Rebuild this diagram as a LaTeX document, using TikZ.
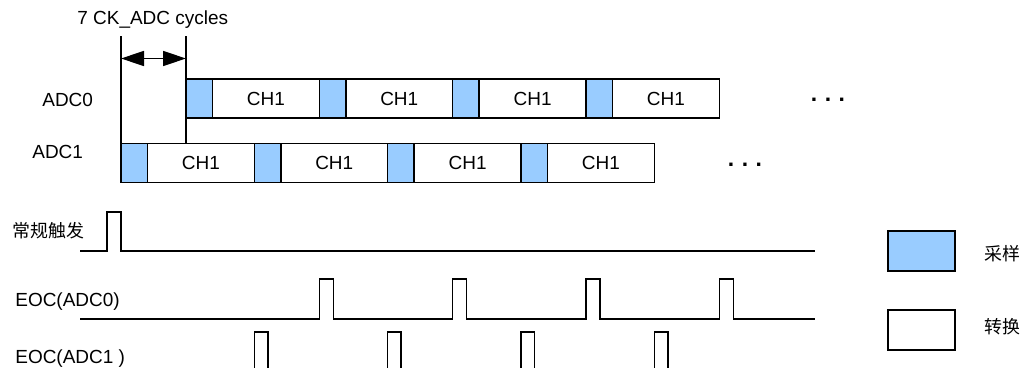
\documentclass[tikz,border=0pt]{standalone}
\usepackage{fontspec}
\setmainfont{Liberation Sans}
\newfontfamily\cjk{Noto Sans CJK SC}
\usetikzlibrary{calc,positioning,arrows.meta}
\definecolor{sampblue}{HTML}{99CCFF}

\begin{document}
\begin{tikzpicture}[font=\fontsize{10.8}{12}\selectfont,
		box/.style={draw, line width=0.9pt, minimum height=0.78cm, inner sep=0pt, outer sep=0pt},
		samp/.style={box, fill=sampblue, minimum width=0.53cm},
		conv/.style={box, fill=white, minimum width=2.137cm},
		sig/.style={line width=0.9pt},
		lbl/.style={inner sep=0pt, anchor=west},
		cjklbl/.style={lbl, font=\fontsize{10.2}{12}\selectfont\cjk},
		more/.style={inner sep=0pt, font=\fontsize{13}{13}\selectfont\bfseries},
		>={Triangle[length=0.46cm, width=0.3cm]}]
	\useasboundingbox (0,0) rectangle (20.48,-7.36);

	% ADC0
	\node[samp, anchor=west] at (3.72,-1.97) (a0s1) {};
	\node[conv, right=0pt of a0s1] (a0c1) {CH1};
	\node[samp, right=0pt of a0c1] (a0s2) {};
	\node[conv, right=0pt of a0s2] (a0c2) {CH1};
	\node[samp, right=0pt of a0c2] (a0s3) {};
	\node[conv, right=0pt of a0s3] (a0c3) {CH1};
	\node[samp, right=0pt of a0c3] (a0s4) {};
	\node[conv, right=0pt of a0s4] (a0c4) {CH1};

	% ADC1
	\node[samp, anchor=west] at (2.42,-3.26) (a1s1) {};
	\node[conv, right=0pt of a1s1] (a1c1) {CH1};
	\node[samp, right=0pt of a1c1] (a1s2) {};
	\node[conv, right=0pt of a1s2] (a1c2) {CH1};
	\node[samp, right=0pt of a1c2] (a1s3) {};
	\node[conv, right=0pt of a1s3] (a1c3) {CH1};
	\node[samp, right=0pt of a1c3] (a1s4) {};
	\node[conv, right=0pt of a1s4] (a1c4) {CH1};

	\node[more] at (16.56,-2.0) (dots0) {.\hspace{1.5mm}.\hspace{1.5mm}.};
	\node[more] at (14.9,-3.3) (dots1) {.\hspace{1.5mm}.\hspace{1.5mm}.};

	\node[lbl] at (0.84,-1.99) (adc0lbl) {ADC0};
	\node[lbl] at (0.64,-3.03) (adc1lbl) {ADC1};

	% 7 cycles offset
	\node[lbl] at (1.54,-0.40) (cyclbl) {7 CK\_ADC cycles};
	\coordinate (tick0) at (2.42,-0.73);
	\coordinate (tick1) at (3.72,-0.73);
	\draw[line width=0.8pt] (tick0) -- (a1s1.north west);
	\draw[line width=0.8pt] (tick1) -- (tick1 |- a1s1.north);
	\draw[line width=0.8pt, <->] ($(tick0)+(0,-0.44)$) -- ($(tick1)+(0,-0.44)$);

	% trigger
	\node[cjklbl] at (0.24,-4.62) (triglbl) {常规触发};
	\coordinate (trig) at (1.6,-5.02);
	\draw[sig] (trig) -- ++(0.54,0) -- ++(0,0.78) -- (a1s1.west |- 0,-4.24) -- (a1s1.west |- trig) -- (16.3,-5.02);

	% EOC(ADC0)
	\node[lbl] at (0.30,-6.04) (eoc0lbl) {EOC(ADC0)};
	\coordinate (eoc0) at (1.6,-6.38);
	\draw[sig] (eoc0) -- (a0c1.east |- eoc0) -- ++(0,0.8) -- ++(0.28,0) -- ++(0,-0.8)
		-- (a0c2.east |- eoc0) -- ++(0,0.8) -- ++(0.28,0) -- ++(0,-0.8)
		-- (a0c3.east |- eoc0) -- ++(0,0.8) -- ++(0.28,0) -- ++(0,-0.8)
		-- (a0c4.east |- eoc0) -- ++(0,0.8) -- ++(0.28,0) -- ++(0,-0.8)
		-- (16.3,-6.38);

	% EOC(ADC1)
	\node[lbl] at (0.30,-7.17) (eoc1lbl) {EOC(ADC1 )};
	\coordinate (eoc1) at (1.6,-7.36);
	\draw[sig] (a1c1.east |- eoc1) -- ++(0,0.72) -- ++(0.27,0) -- ++(0,-0.72);
	\draw[sig] (a1c2.east |- eoc1) -- ++(0,0.72) -- ++(0.27,0) -- ++(0,-0.72);
	\draw[sig] (a1c3.east |- eoc1) -- ++(0,0.72) -- ++(0.27,0) -- ++(0,-0.72);
	\draw[sig] (a1c4.east |- eoc1) -- ++(0,0.72) -- ++(0.27,0) -- ++(0,-0.72);

	% legend
	\node[samp, minimum width=1.34cm, minimum height=0.8cm, anchor=north west] at (17.76,-4.62) (keysamp) {};
	\node[box, minimum width=1.34cm, minimum height=0.8cm, anchor=north west] at (17.76,-6.2) (keyconv) {};
	\node[cjklbl] at (19.68,-5.08) (samplbl) {采样};
	\node[cjklbl] at (19.68,-6.53) (convlbl) {转换};
\end{tikzpicture}
\end{document}
